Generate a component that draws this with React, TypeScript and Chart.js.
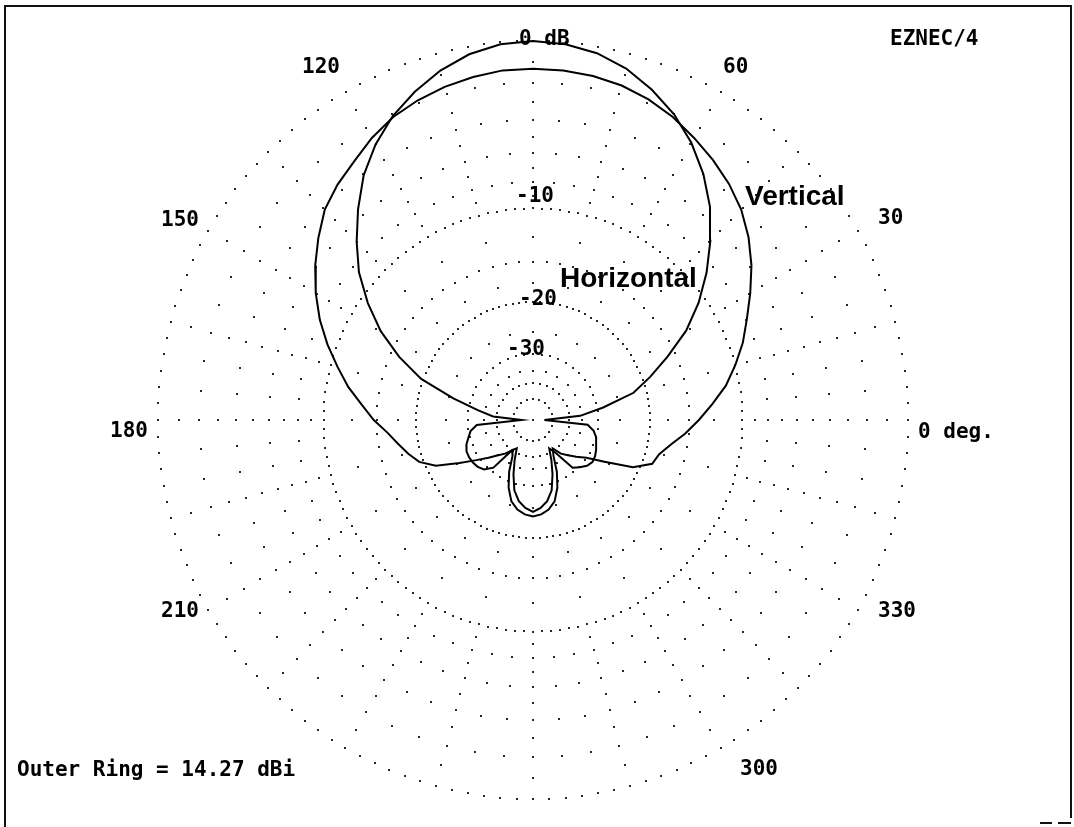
import React, { useEffect, useRef } from "react";
import { Chart, registerables } from "chart.js";

Chart.register(...registerables);

// Azimuth angles (degrees, 0 = right, counter-clockwise)
const ANGLES_DEG = [
  0, 5, 10, 15, 20, 25, 30, 35, 40, 45, 50, 55, 60, 65, 70, 75, 80, 85,
  90, 95, 100, 105, 110, 115, 120, 125, 130, 135, 140, 145, 150, 155, 160, 165, 170, 175,
  180, 185, 190, 195, 200, 205, 210, 215, 220, 225, 230, 235, 240, 245, 250, 255, 260, 265,
  270, 275, 280, 285, 290, 295, 300, 305, 310, 315, 320, 325, 330, 335, 340, 345, 350, 355, 360,
];

// dB relative to outer ring (14.27 dBi)
const HORIZONTAL_DB = [
  -60, -35.5, -28.5, -22, -18.9, -15.9, -12.9, -10.6, -8.65, -6.9, -5.3, -4.0, -2.9, -2.0, -1.3, -0.7, -0.3, -0.08,
  0, -0.08, -0.35, -0.8, -1.4, -2.1, -3.0, -4.1, -5.5, -7.0, -8.6, -10.65, -13.0, -16.0, -19.7, -26.0, -32.6, -38.4,
  -60, -32.5, -30.5, -29.6, -28.6, -28.0, -27.9, -28.0, -28.3, -29.0, -31.0, -40.0, -42.0, -37.0, -32.3, -28.3, -26.2, -25.0,
  -24.3, -25.0, -26.2, -28.3, -32.3, -37.0, -42.0, -38.5, -31.0, -29.8, -28.7, -28.2, -28.4, -28.9, -29.5, -30.0, -31.0, -33.0, -60,
];

const VERTICAL_DB = [
  -14.0, -12.6, -11.15, -10.0, -8.9, -7.95, -6.9, -5.85, -4.93, -4.15, -3.55, -3.05, -2.6, -2.15, -1.8, -1.55, -1.4, -1.32,
  -1.3, -1.32, -1.45, -1.62, -1.85, -2.15, -2.6, -3.15, -3.6, -4.15, -5.0, -5.9, -6.9, -8.0, -9.25, -10.6, -11.9, -13.4,
  -14.7, -16.2, -17.3, -18.3, -19.4, -21.5, -25.5, -29.0, -32.0, -34.8, -37.0, -40.0, -38.0, -32.5, -28.5, -25.8, -24.5, -23.8,
  -23.5, -23.8, -24.5, -25.8, -28.5, -32.5, -38.0, -41.0, -37.0, -34.8, -32.5, -30.0, -26.0, -21.0, -18.6, -18.1, -16.9, -15.4, -14.0,
];

const RING_DB = [0, -10, -20, -30, -40, -50];
const RING_LABELS = ["0 dB", "-10", "-20", "-30"];
const ANGLE_LABELS = ["0 deg.", "30", "60", "120", "150", "180", "210", "300", "330"];
const SERIES_LABELS = ["Vertical", "Horizontal"];
const OUTER_RING_DBI = 14.27;
const PROGRAM_LABEL = "EZNEC/4";

// ARRL log scale: radius factor 0.89 per 2 dB
const arrl = (db: number) => Math.pow(0.89, -db / 2);

const toXY = (deg: number, db: number) => {
  const u = arrl(db);
  const t = (deg * Math.PI) / 180;
  return { x: u * Math.cos(t), y: u * Math.sin(t) };
};

const MONO = 'bold 21px "DejaVu Sans Mono", "Liberation Mono", monospace';
const SANS = 'bold 28px "Liberation Sans", Arial, sans-serif';

const gridPlugin = {
  id: "eznecGrid",
  beforeDatasetsDraw(chart: any) {
    const { ctx, scales } = chart;
    const xs = scales.x;
    const ys = scales.y;
    const px = (deg: number, db: number) => {
      const p = toXY(deg, db);
      return [xs.getPixelForValue(p.x), ys.getPixelForValue(p.y)];
    };
    ctx.save();
    ctx.fillStyle = "#262626";
    const dot = (p: number[]) => ctx.fillRect(Math.round(p[0]) - 1, Math.round(p[1]) - 1, 2, 2);
    const ringDots = [144, 144, 108, 48, 32, 20];
    RING_DB.forEach((db, i) => {
      const n = ringDots[i];
      for (let k = 0; k < n; k++) dot(px((k * 360) / n, db));
    });
    const majorLevels = [-1, -2, -3, -4, -5, -6, -7, -8, -9, -12.5, -15, -17.5, -25, -35];
    const minorLevels = [-2, -4, -6, -8, -15];
    for (let a = 0; a < 360; a += 5) {
      const levels = a % 15 === 0 ? majorLevels : minorLevels;
      levels.forEach((db) => dot(px(a, db)));
    }
    dot([xs.getPixelForValue(0), ys.getPixelForValue(0)]);
    ctx.restore();
  },
  afterDraw(chart: any) {
    const { ctx } = chart;
    ctx.save();
    ctx.fillStyle = "#000";
    ctx.textBaseline = "middle";
    ctx.textAlign = "left";
    ctx.font = MONO;
    const ringPos = [
      [519, 40],
      [516, 197],
      [519, 300],
      [507, 350],
    ];
    RING_LABELS.forEach((t, i) => {
      // white knock-out behind the label like the original
      ctx.fillText(t, ringPos[i][0], ringPos[i][1]);
    });
    const anglePos = [
      [918, 433],
      [878, 219],
      [723, 68],
      [302, 68],
      [161, 221],
      [110, 432],
      [161, 612],
      [740, 770],
      [878, 612],
    ];
    ANGLE_LABELS.forEach((t, i) => ctx.fillText(t, anglePos[i][0], anglePos[i][1]));
    ctx.fillText(PROGRAM_LABEL, 890, 40);
    ctx.fillText(`Outer Ring = ${OUTER_RING_DBI.toFixed(2)} dBi`, 17, 771);

    ctx.font = SANS;
    ctx.textBaseline = "alphabetic";
    ctx.fillText(SERIES_LABELS[0], 745, 205);
    ctx.fillText(SERIES_LABELS[1], 560, 287);

    // frame
    ctx.strokeStyle = "#111";
    ctx.lineWidth = 2;
    ctx.beginPath();
    ctx.moveTo(5, 827);
    ctx.lineTo(5, 6);
    ctx.lineTo(1071, 6);
    ctx.lineTo(1071, 818);
    ctx.stroke();
    ctx.beginPath();
    ctx.moveTo(1040, 823);
    ctx.lineTo(1052, 823);
    ctx.moveTo(1058, 823);
    ctx.lineTo(1071, 823);
    ctx.stroke();
    ctx.restore();
  },
};

export default function App() {
  const canvasRef = useRef<HTMLCanvasElement | null>(null);

  useEffect(() => {
    const canvas = canvasRef.current;
    if (!canvas) return;
    const W = 1074;
    const H = 827;
    const cx = 533;
    const cy = 420;
    const rx = 375;
    const ry = 379;

    const mk = (vals: number[]) => ANGLES_DEG.map((a, i) => toXY(a, vals[i]));

    const chart = new Chart(canvas, {
      type: "scatter",
      data: {
        datasets: [
          {
            label: SERIES_LABELS[0],
            data: mk(VERTICAL_DB),
            showLine: true,
            borderColor: "#000",
            borderWidth: 2,
            pointRadius: 0,
            tension: 0,
          },
          {
            label: SERIES_LABELS[1],
            data: mk(HORIZONTAL_DB),
            showLine: true,
            borderColor: "#000",
            borderWidth: 2,
            pointRadius: 0,
            tension: 0,
          },
        ],
      },
      options: {
        responsive: false,
        animation: false,
        devicePixelRatio: 1,
        layout: { padding: 0 },
        plugins: { legend: { display: false }, tooltip: { enabled: false } },
        scales: {
          x: { type: "linear", display: false, min: -cx / rx, max: (W - cx) / rx },
          y: { type: "linear", display: false, min: -(H - cy) / ry, max: cy / ry },
        },
      },
      plugins: [gridPlugin],
    } as any);

    return () => chart.destroy();
  }, []);

  return (
    <div style={{ position: "absolute", left: 0, top: 0, width: 1074, height: 827, background: "#fff" }}>
      <canvas ref={canvasRef} width={1074} height={827} style={{ display: "block" }} />
    </div>
  );
}
